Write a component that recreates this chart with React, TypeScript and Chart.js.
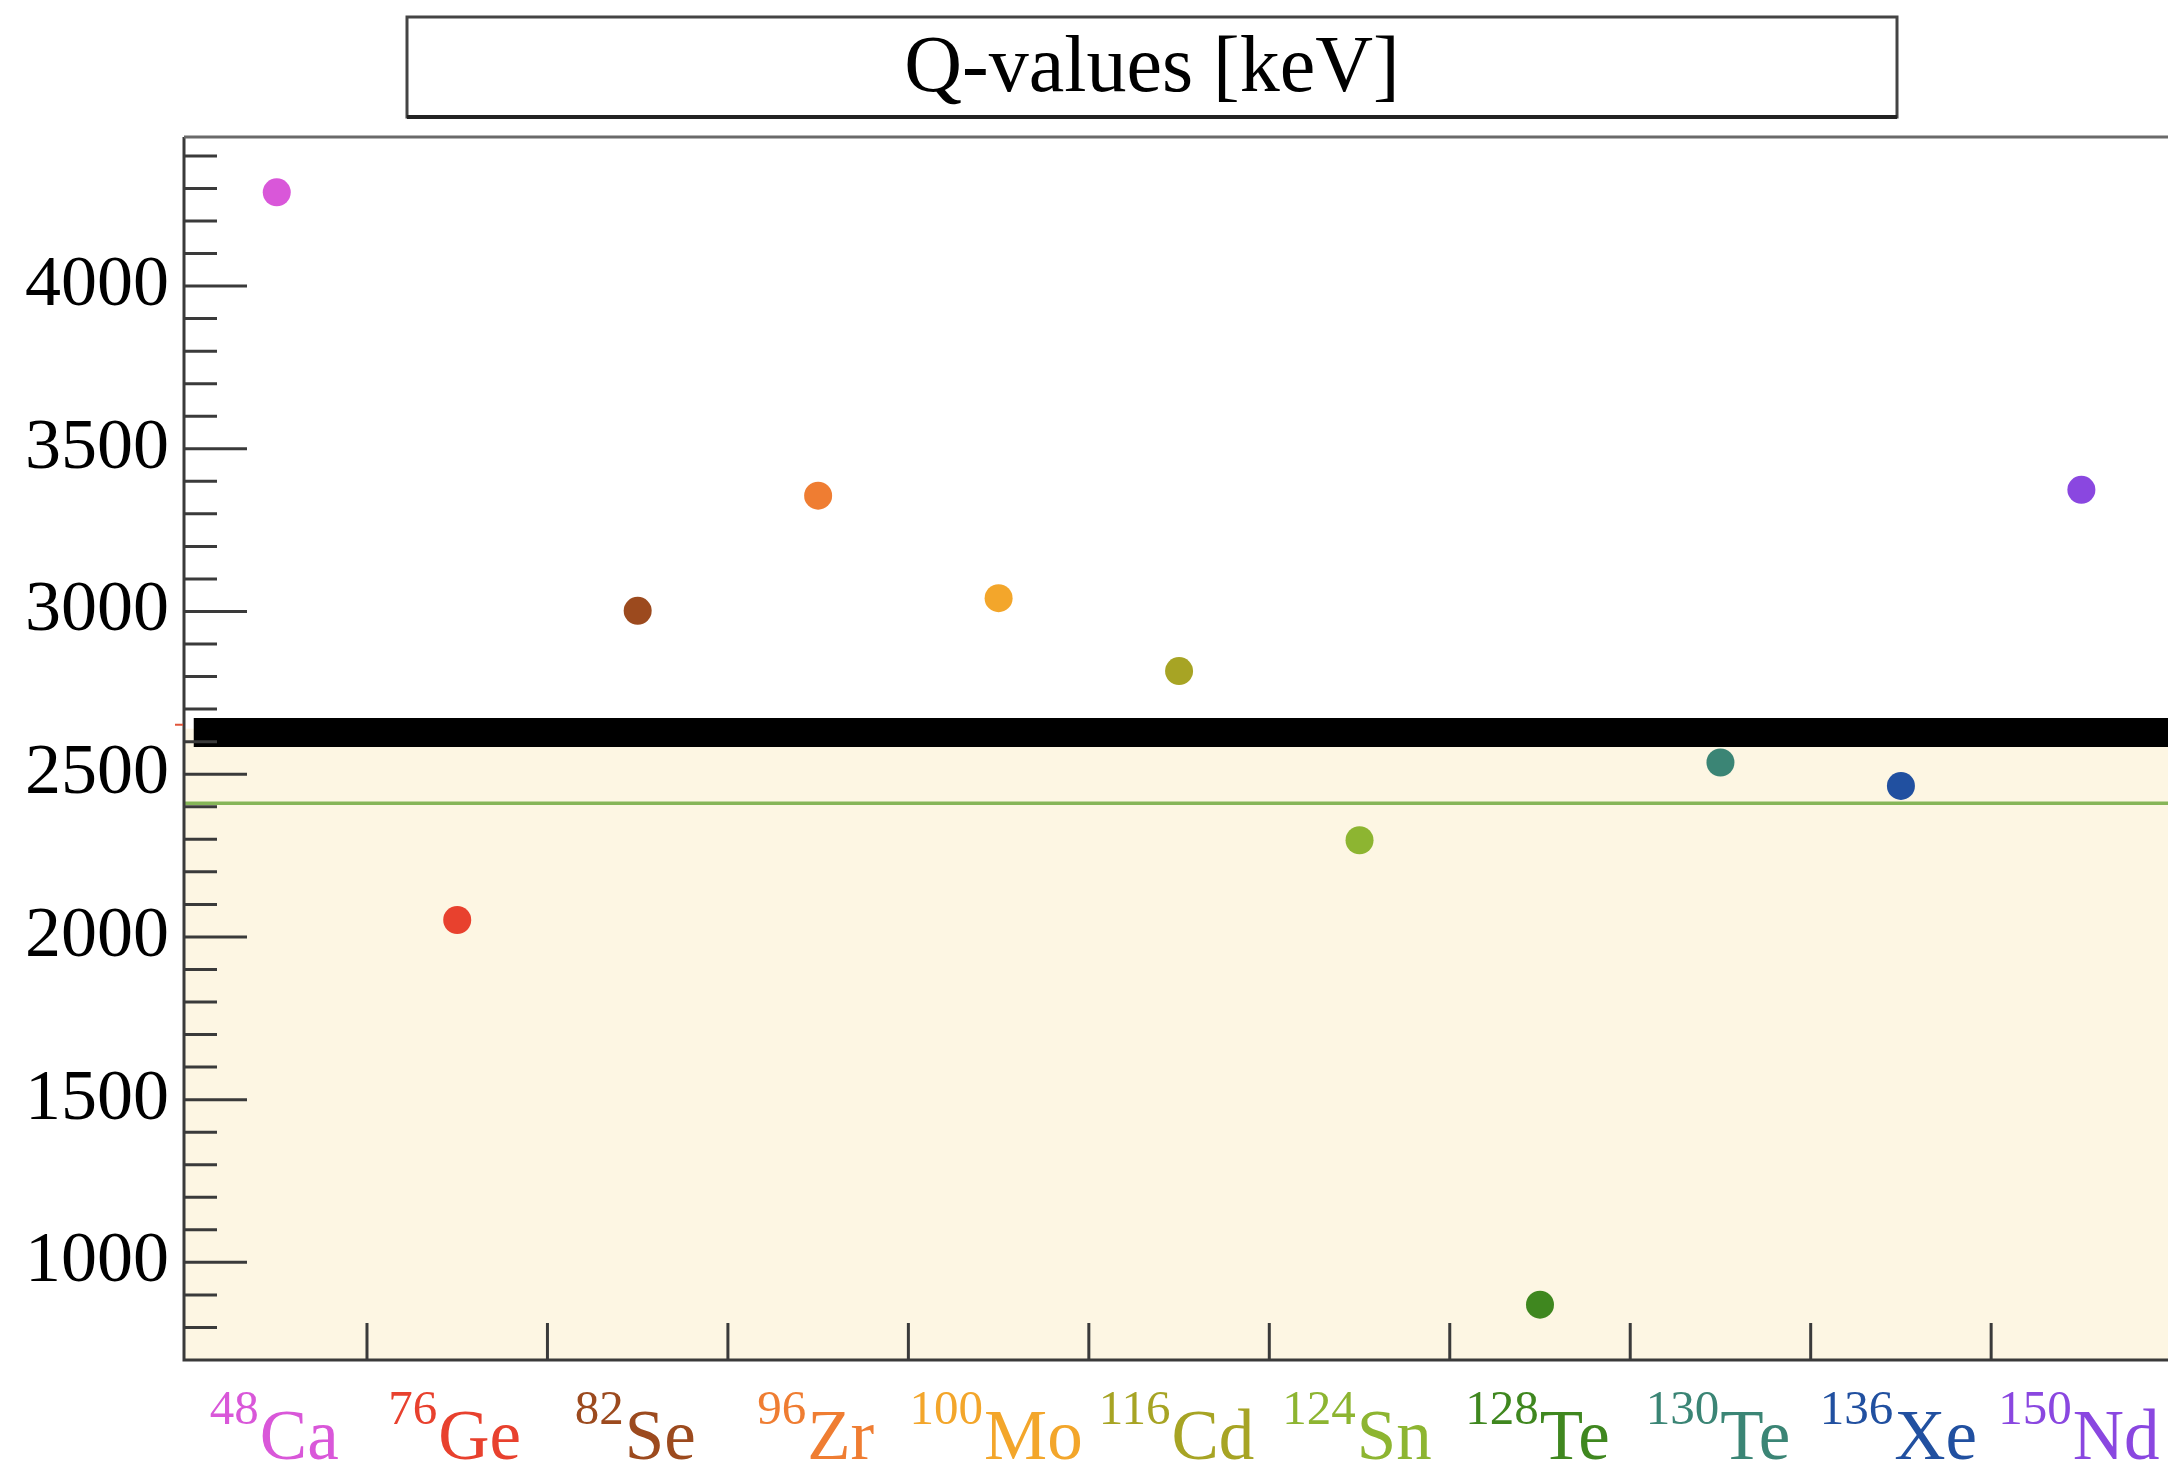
import React, { useEffect, useRef } from 'react';
import { Chart, registerables } from 'chart.js';

Chart.register(...registerables);

// ---- data ----
const massNumbers = ['48', '76', '82', '96', '100', '116', '124', '128', '130', '136', '150'];
const elements = ['Ca', 'Ge', 'Se', 'Zr', 'Mo', 'Cd', 'Sn', 'Te', 'Te', 'Xe', 'Nd'];
const qValues = [4288, 2052, 3002, 3356, 3041, 2817, 2297, 870, 2536, 2464, 3374];
const isotopeColors = [
  '#d957d9', '#e8412e', '#9c4a1e', '#ef7d32', '#f3a62b', '#a7a424',
  '#8db531', '#3f871f', '#3b8575', '#2150a0', '#8a47e0',
];
const yTickLabels = [1000, 1500, 2000, 2500, 3000, 3500, 4000];
const yMinorStep = 100;
const greenLineValue = [2411, 2411];
const blackBandValue = [2628, 2628];
const creamTopValue = [2640, 2640];
const redMarkValue = 2652;
const titleText = 'Q-values [keV]';

// ---- axis ranges ----
const xMin = -0.514;
const xMax = 10.48;
const yMin = 700;
const yMax = 4458;
const bandStartX = -0.46;

const SERIF = "'Liberation Serif', 'Times New Roman', serif";

const decorPlugin = {
  id: 'decor',
  afterDatasetsDraw(chart: any) {
    const { ctx, chartArea: ca, scales } = chart;
    const x = scales.x;
    const y = scales.y;
    ctx.save();
    ctx.lineCap = 'butt';

    // y ticks (inside)
    ctx.strokeStyle = '#3a3a3a';
    ctx.lineWidth = 3;
    const start = Math.floor(y.min / yMinorStep) * yMinorStep + yMinorStep;
    for (let v = start; v < y.max; v += yMinorStep) {
      const py = y.getPixelForValue(v);
      const major = yTickLabels.includes(v);
      ctx.beginPath();
      ctx.moveTo(ca.left, py);
      ctx.lineTo(ca.left + (major ? 63 : 33), py);
      ctx.stroke();
    }
    // x ticks (between categories)
    for (let i = 0; i < elements.length; i++) {
      const px = x.getPixelForValue(i + 0.5);
      if (px > ca.right) continue;
      ctx.beginPath();
      ctx.moveTo(px, ca.bottom);
      ctx.lineTo(px, ca.bottom - 37);
      ctx.stroke();
    }
    // frame
    ctx.strokeStyle = '#3a3a3a';
    ctx.beginPath();
    ctx.moveTo(ca.left, ca.top);
    ctx.lineTo(ca.left, ca.bottom);
    ctx.lineTo(ca.right, ca.bottom);
    ctx.stroke();
    ctx.strokeStyle = '#6a6a6a';
    ctx.beginPath();
    ctx.moveTo(ca.left, ca.top);
    ctx.lineTo(ca.right, ca.top);
    ctx.stroke();

    // small red marker left of the axis
    ctx.strokeStyle = '#e0553a';
    ctx.lineWidth = 2;
    const ry = y.getPixelForValue(redMarkValue);
    ctx.beginPath();
    ctx.moveTo(ca.left - 9, ry);
    ctx.lineTo(ca.left - 1, ry);
    ctx.stroke();

    // x labels with superscript mass numbers
    const supFont = `49px ${SERIF}`;
    const elFont = `71px ${SERIF}`;
    ctx.textBaseline = 'alphabetic';
    ctx.textAlign = 'left';
    for (let i = 0; i < elements.length; i++) {
      const cx = x.getPixelForValue(i);
      ctx.font = supFont;
      const ws = ctx.measureText(massNumbers[i]).width;
      ctx.font = elFont;
      const we = ctx.measureText(elements[i]).width;
      const sx = cx - (ws + we) / 2 - 3;
      ctx.fillStyle = isotopeColors[i];
      ctx.font = supFont;
      ctx.fillText(massNumbers[i], sx, ca.bottom + 64);
      ctx.font = elFont;
      ctx.fillText(elements[i], sx + ws + 1, ca.bottom + 99);
    }

    // title box
    const bx0 = 407, bx1 = 1897, by0 = 17, by1 = 117;
    ctx.fillStyle = '#ffffff';
    ctx.fillRect(bx0, by0, bx1 - bx0, by1 - by0);
    ctx.strokeStyle = '#444';
    ctx.lineWidth = 3;
    ctx.strokeRect(bx0, by0, bx1 - bx0, by1 - by0);
    ctx.strokeStyle = '#222';
    ctx.lineWidth = 4;
    ctx.beginPath();
    ctx.moveTo(bx0, by1);
    ctx.lineTo(bx1, by1);
    ctx.stroke();
    ctx.fillStyle = '#000';
    ctx.font = `80px ${SERIF}`;
    ctx.textAlign = 'center';
    ctx.fillText(titleText, (bx0 + bx1) / 2, 91);
    ctx.restore();
  },
};

export default function App() {
  const ref = useRef<HTMLCanvasElement | null>(null);

  useEffect(() => {
    document.body.style.margin = '0';
    const canvas = ref.current;
    if (!canvas) return;
    const chart = new Chart(canvas, {
      type: 'scatter',
      data: {
        datasets: [
          {
            type: 'line',
            data: [
              { x: xMin, y: creamTopValue[0] },
              { x: xMax, y: creamTopValue[1] },
            ],
            fill: 'start',
            backgroundColor: '#fdf6e3',
            borderWidth: 0,
            pointRadius: 0,
            order: 4,
          } as any,
          {
            type: 'line',
            data: [
              { x: xMin, y: greenLineValue[0] },
              { x: xMax, y: greenLineValue[1] },
            ],
            borderColor: '#86b558',
            borderWidth: 3.5,
            pointRadius: 0,
            fill: false,
            order: 3,
          } as any,
          {
            type: 'line',
            data: [
              { x: bandStartX, y: blackBandValue[0] },
              { x: xMax, y: blackBandValue[1] },
            ],
            borderColor: '#000000',
            borderWidth: 29,
            borderCapStyle: 'butt',
            pointRadius: 0,
            fill: false,
            order: 2,
          } as any,
          {
            type: 'scatter',
            data: qValues.map((q, i) => ({ x: i, y: q })),
            pointBackgroundColor: isotopeColors,
            pointBorderWidth: 0,
            pointRadius: 14,
            order: 1,
          } as any,
        ],
      },
      options: {
        responsive: false,
        maintainAspectRatio: false,
        animation: false,
        layout: { autoPadding: false, padding: { top: 137, left: 0, right: 0, bottom: 0 } },
        plugins: {
          legend: { display: false },
          tooltip: { enabled: false },
          title: { display: false },
        },
        scales: {
          x: {
            type: 'linear',
            min: xMin,
            max: xMax,
            grid: { display: false, drawTicks: false },
            border: { display: false },
            ticks: { display: false },
            afterFit(s: any) {
              s.height = 107;
            },
          },
          y: {
            type: 'linear',
            min: yMin,
            max: yMax,
            grid: { display: false, drawTicks: false },
            border: { display: false },
            ticks: {
              padding: 15,
              color: '#000',
              font: { family: SERIF, size: 72 },
              callback: (v: any) => String(v),
            },
            afterBuildTicks(s: any) {
              s.ticks = yTickLabels.map((v) => ({ value: v }));
            },
            afterFit(s: any) {
              s.width = 184;
            },
          },
        },
      } as any,
      plugins: [decorPlugin],
    });
    return () => chart.destroy();
  }, []);

  return (
    <canvas
      ref={ref}
      width={2168}
      height={1467}
      style={{ display: 'block', width: 2168, height: 1467 }}
    />
  );
}
